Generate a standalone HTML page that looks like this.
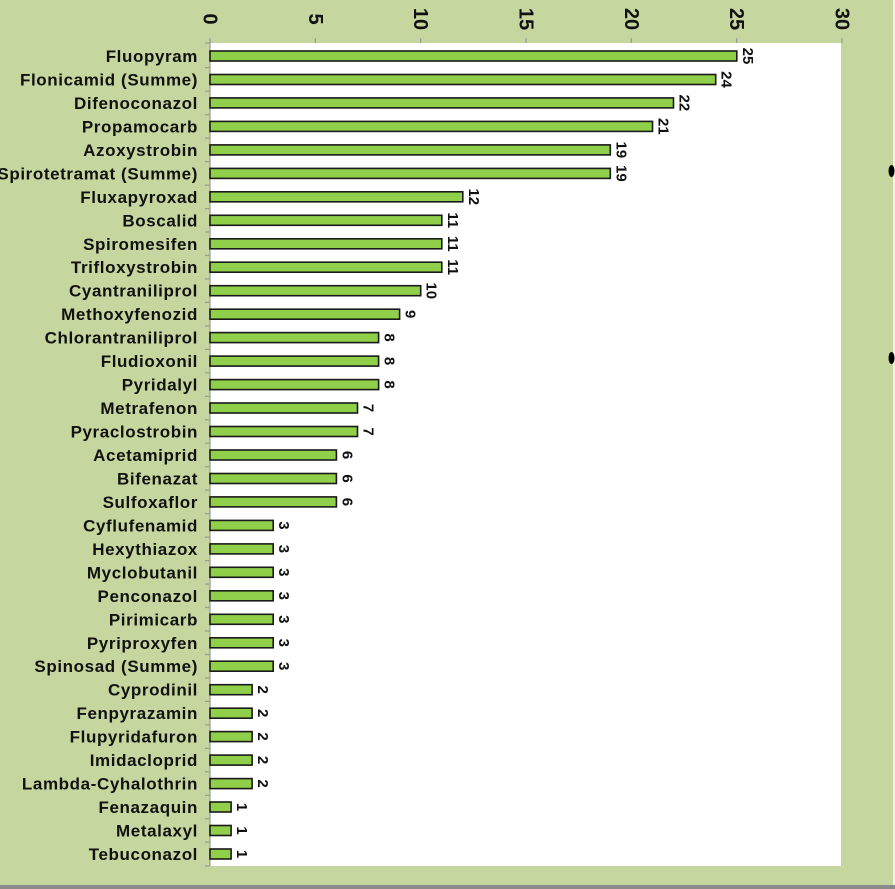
<!DOCTYPE html>
<html><head><meta charset="utf-8"><style>
html,body{margin:0;padding:0;background:#c5d69e;}
svg{display:block;font-family:"Liberation Sans",Arial,sans-serif;}
.l{font-size:17px;font-weight:bold;text-anchor:end;fill:#111;letter-spacing:0.6px;}
.v{font-size:15px;font-weight:bold;text-anchor:middle;fill:#111;}
.t{font-size:20px;font-weight:bold;text-anchor:middle;fill:#111;}
rect.b{fill:#8fcf4a;stroke:#1a1a1a;stroke-width:1.6;}
</style></head><body>
<svg width="895" height="889" viewBox="0 0 895 889">
<rect x="0" y="0" width="895" height="889" fill="#c5d69e"/>
<rect x="0" y="885" width="895" height="4" fill="#8a8a8a"/>
<rect x="893" y="0" width="2" height="885" fill="#eef3e4"/>
<rect x="210" y="43" width="631" height="823" fill="#fff"/>
<g stroke="#999" stroke-width="1.2">
<line x1="210" y1="43" x2="210" y2="866"/>
<line x1="210" y1="38" x2="210" y2="43"/><line x1="315.3" y1="38" x2="315.3" y2="43"/><line x1="420.7" y1="38" x2="420.7" y2="43"/><line x1="526" y1="38" x2="526" y2="43"/><line x1="631.3" y1="38" x2="631.3" y2="43"/><line x1="736.7" y1="38" x2="736.7" y2="43"/><line x1="842" y1="38" x2="842" y2="43"/>
<line x1="205" y1="43" x2="210" y2="43"/><line x1="205" y1="67.7" x2="210" y2="67.7"/><line x1="205" y1="91.2" x2="210" y2="91.2"/><line x1="205" y1="114.7" x2="210" y2="114.7"/><line x1="205" y1="138.2" x2="210" y2="138.2"/><line x1="205" y1="161.6" x2="210" y2="161.6"/><line x1="205" y1="185.1" x2="210" y2="185.1"/><line x1="205" y1="208.6" x2="210" y2="208.6"/><line x1="205" y1="232" x2="210" y2="232"/><line x1="205" y1="255.5" x2="210" y2="255.5"/><line x1="205" y1="279" x2="210" y2="279"/><line x1="205" y1="302.4" x2="210" y2="302.4"/><line x1="205" y1="325.9" x2="210" y2="325.9"/><line x1="205" y1="349.4" x2="210" y2="349.4"/><line x1="205" y1="372.8" x2="210" y2="372.8"/><line x1="205" y1="396.3" x2="210" y2="396.3"/><line x1="205" y1="419.8" x2="210" y2="419.8"/><line x1="205" y1="443.2" x2="210" y2="443.2"/><line x1="205" y1="466.7" x2="210" y2="466.7"/><line x1="205" y1="490.2" x2="210" y2="490.2"/><line x1="205" y1="513.7" x2="210" y2="513.7"/><line x1="205" y1="537.1" x2="210" y2="537.1"/><line x1="205" y1="560.6" x2="210" y2="560.6"/><line x1="205" y1="584.1" x2="210" y2="584.1"/><line x1="205" y1="607.5" x2="210" y2="607.5"/><line x1="205" y1="631" x2="210" y2="631"/><line x1="205" y1="654.5" x2="210" y2="654.5"/><line x1="205" y1="677.9" x2="210" y2="677.9"/><line x1="205" y1="701.4" x2="210" y2="701.4"/><line x1="205" y1="724.9" x2="210" y2="724.9"/><line x1="205" y1="748.3" x2="210" y2="748.3"/><line x1="205" y1="771.8" x2="210" y2="771.8"/><line x1="205" y1="795.3" x2="210" y2="795.3"/><line x1="205" y1="818.7" x2="210" y2="818.7"/><line x1="205" y1="842.2" x2="210" y2="842.2"/><line x1="205" y1="866" x2="210" y2="866"/>
</g>
<g>
<text class="t" transform="translate(203.5,19) rotate(90)">0</text>
<text class="t" transform="translate(308.8,19) rotate(90)">5</text>
<text class="t" transform="translate(414.2,19) rotate(90)">10</text>
<text class="t" transform="translate(519.5,19) rotate(90)">15</text>
<text class="t" transform="translate(624.8,19) rotate(90)">20</text>
<text class="t" transform="translate(730.2,19) rotate(90)">25</text>
<text class="t" transform="translate(835.5,19) rotate(90)">30</text>
</g>
<g>
<rect class="b" x="210" y="51" width="526.8" height="10"/>
<rect class="b" x="210" y="74.5" width="505.7" height="10"/>
<rect class="b" x="210" y="97.9" width="463.5" height="10"/>
<rect class="b" x="210" y="121.4" width="442.5" height="10"/>
<rect class="b" x="210" y="144.9" width="400.3" height="10"/>
<rect class="b" x="210" y="168.4" width="400.3" height="10"/>
<rect class="b" x="210" y="191.8" width="252.8" height="10"/>
<rect class="b" x="210" y="215.3" width="231.8" height="10"/>
<rect class="b" x="210" y="238.8" width="231.8" height="10"/>
<rect class="b" x="210" y="262.2" width="231.8" height="10"/>
<rect class="b" x="210" y="285.7" width="210.7" height="10"/>
<rect class="b" x="210" y="309.2" width="189.6" height="10"/>
<rect class="b" x="210" y="332.6" width="168.6" height="10"/>
<rect class="b" x="210" y="356.1" width="168.6" height="10"/>
<rect class="b" x="210" y="379.6" width="168.6" height="10"/>
<rect class="b" x="210" y="403" width="147.5" height="10"/>
<rect class="b" x="210" y="426.5" width="147.5" height="10"/>
<rect class="b" x="210" y="450" width="126.4" height="10"/>
<rect class="b" x="210" y="473.5" width="126.4" height="10"/>
<rect class="b" x="210" y="496.9" width="126.4" height="10"/>
<rect class="b" x="210" y="520.4" width="63.2" height="10"/>
<rect class="b" x="210" y="543.9" width="63.2" height="10"/>
<rect class="b" x="210" y="567.3" width="63.2" height="10"/>
<rect class="b" x="210" y="590.8" width="63.2" height="10"/>
<rect class="b" x="210" y="614.3" width="63.2" height="10"/>
<rect class="b" x="210" y="637.8" width="63.2" height="10"/>
<rect class="b" x="210" y="661.2" width="63.2" height="10"/>
<rect class="b" x="210" y="684.7" width="42.1" height="10"/>
<rect class="b" x="210" y="708.2" width="42.1" height="10"/>
<rect class="b" x="210" y="731.6" width="42.1" height="10"/>
<rect class="b" x="210" y="755.1" width="42.1" height="10"/>
<rect class="b" x="210" y="778.6" width="42.1" height="10"/>
<rect class="b" x="210" y="802" width="21.1" height="10"/>
<rect class="b" x="210" y="825.5" width="21.1" height="10"/>
<rect class="b" x="210" y="849" width="21.1" height="10"/>
</g>
<g>
<text class="l" x="198" y="62">Fluopyram</text>
<text class="l" x="198" y="85.5">Flonicamid (Summe)</text>
<text class="l" x="198" y="108.9">Difenoconazol</text>
<text class="l" x="198" y="132.4">Propamocarb</text>
<text class="l" x="198" y="155.9">Azoxystrobin</text>
<text class="l" x="198" y="179.4">Spirotetramat (Summe)</text>
<text class="l" x="198" y="202.8">Fluxapyroxad</text>
<text class="l" x="198" y="226.3">Boscalid</text>
<text class="l" x="198" y="249.8">Spiromesifen</text>
<text class="l" x="198" y="273.2">Trifloxystrobin</text>
<text class="l" x="198" y="296.7">Cyantraniliprol</text>
<text class="l" x="198" y="320.2">Methoxyfenozid</text>
<text class="l" x="198" y="343.6">Chlorantraniliprol</text>
<text class="l" x="198" y="367.1">Fludioxonil</text>
<text class="l" x="198" y="390.6">Pyridalyl</text>
<text class="l" x="198" y="414">Metrafenon</text>
<text class="l" x="198" y="437.5">Pyraclostrobin</text>
<text class="l" x="198" y="461">Acetamiprid</text>
<text class="l" x="198" y="484.5">Bifenazat</text>
<text class="l" x="198" y="507.9">Sulfoxaflor</text>
<text class="l" x="198" y="531.4">Cyflufenamid</text>
<text class="l" x="198" y="554.9">Hexythiazox</text>
<text class="l" x="198" y="578.3">Myclobutanil</text>
<text class="l" x="198" y="601.8">Penconazol</text>
<text class="l" x="198" y="625.3">Pirimicarb</text>
<text class="l" x="198" y="648.8">Pyriproxyfen</text>
<text class="l" x="198" y="672.2">Spinosad (Summe)</text>
<text class="l" x="198" y="695.7">Cyprodinil</text>
<text class="l" x="198" y="719.2">Fenpyrazamin</text>
<text class="l" x="198" y="742.6">Flupyridafuron</text>
<text class="l" x="198" y="766.1">Imidacloprid</text>
<text class="l" x="198" y="789.6">Lambda-Cyhalothrin</text>
<text class="l" x="198" y="813">Fenazaquin</text>
<text class="l" x="198" y="836.5">Metalaxyl</text>
<text class="l" x="198" y="860">Tebuconazol</text>
</g>
<g>
<text class="v" transform="translate(742.8,56) rotate(90)">25</text>
<text class="v" transform="translate(721.7,79.5) rotate(90)">24</text>
<text class="v" transform="translate(679.5,102.9) rotate(90)">22</text>
<text class="v" transform="translate(658.5,126.4) rotate(90)">21</text>
<text class="v" transform="translate(616.3,149.9) rotate(90)">19</text>
<text class="v" transform="translate(616.3,173.4) rotate(90)">19</text>
<text class="v" transform="translate(468.8,196.8) rotate(90)">12</text>
<text class="v" transform="translate(447.8,220.3) rotate(90)">11</text>
<text class="v" transform="translate(447.8,243.8) rotate(90)">11</text>
<text class="v" transform="translate(447.8,267.2) rotate(90)">11</text>
<text class="v" transform="translate(426.7,290.7) rotate(90)">10</text>
<text class="v" transform="translate(405.6,314.2) rotate(90)">9</text>
<text class="v" transform="translate(384.6,337.6) rotate(90)">8</text>
<text class="v" transform="translate(384.6,361.1) rotate(90)">8</text>
<text class="v" transform="translate(384.6,384.6) rotate(90)">8</text>
<text class="v" transform="translate(363.5,408) rotate(90)">7</text>
<text class="v" transform="translate(363.5,431.5) rotate(90)">7</text>
<text class="v" transform="translate(342.4,455) rotate(90)">6</text>
<text class="v" transform="translate(342.4,478.5) rotate(90)">6</text>
<text class="v" transform="translate(342.4,501.9) rotate(90)">6</text>
<text class="v" transform="translate(279.2,525.4) rotate(90)">3</text>
<text class="v" transform="translate(279.2,548.9) rotate(90)">3</text>
<text class="v" transform="translate(279.2,572.3) rotate(90)">3</text>
<text class="v" transform="translate(279.2,595.8) rotate(90)">3</text>
<text class="v" transform="translate(279.2,619.3) rotate(90)">3</text>
<text class="v" transform="translate(279.2,642.8) rotate(90)">3</text>
<text class="v" transform="translate(279.2,666.2) rotate(90)">3</text>
<text class="v" transform="translate(258.1,689.7) rotate(90)">2</text>
<text class="v" transform="translate(258.1,713.2) rotate(90)">2</text>
<text class="v" transform="translate(258.1,736.6) rotate(90)">2</text>
<text class="v" transform="translate(258.1,760.1) rotate(90)">2</text>
<text class="v" transform="translate(258.1,783.6) rotate(90)">2</text>
<text class="v" transform="translate(237.1,807) rotate(90)">1</text>
<text class="v" transform="translate(237.1,830.5) rotate(90)">1</text>
<text class="v" transform="translate(237.1,854) rotate(90)">1</text>
</g>
<ellipse cx="891.5" cy="171" rx="3" ry="6" fill="#000"/>
<ellipse cx="891.5" cy="358" rx="3" ry="6" fill="#000"/>
</svg>
</body></html>
